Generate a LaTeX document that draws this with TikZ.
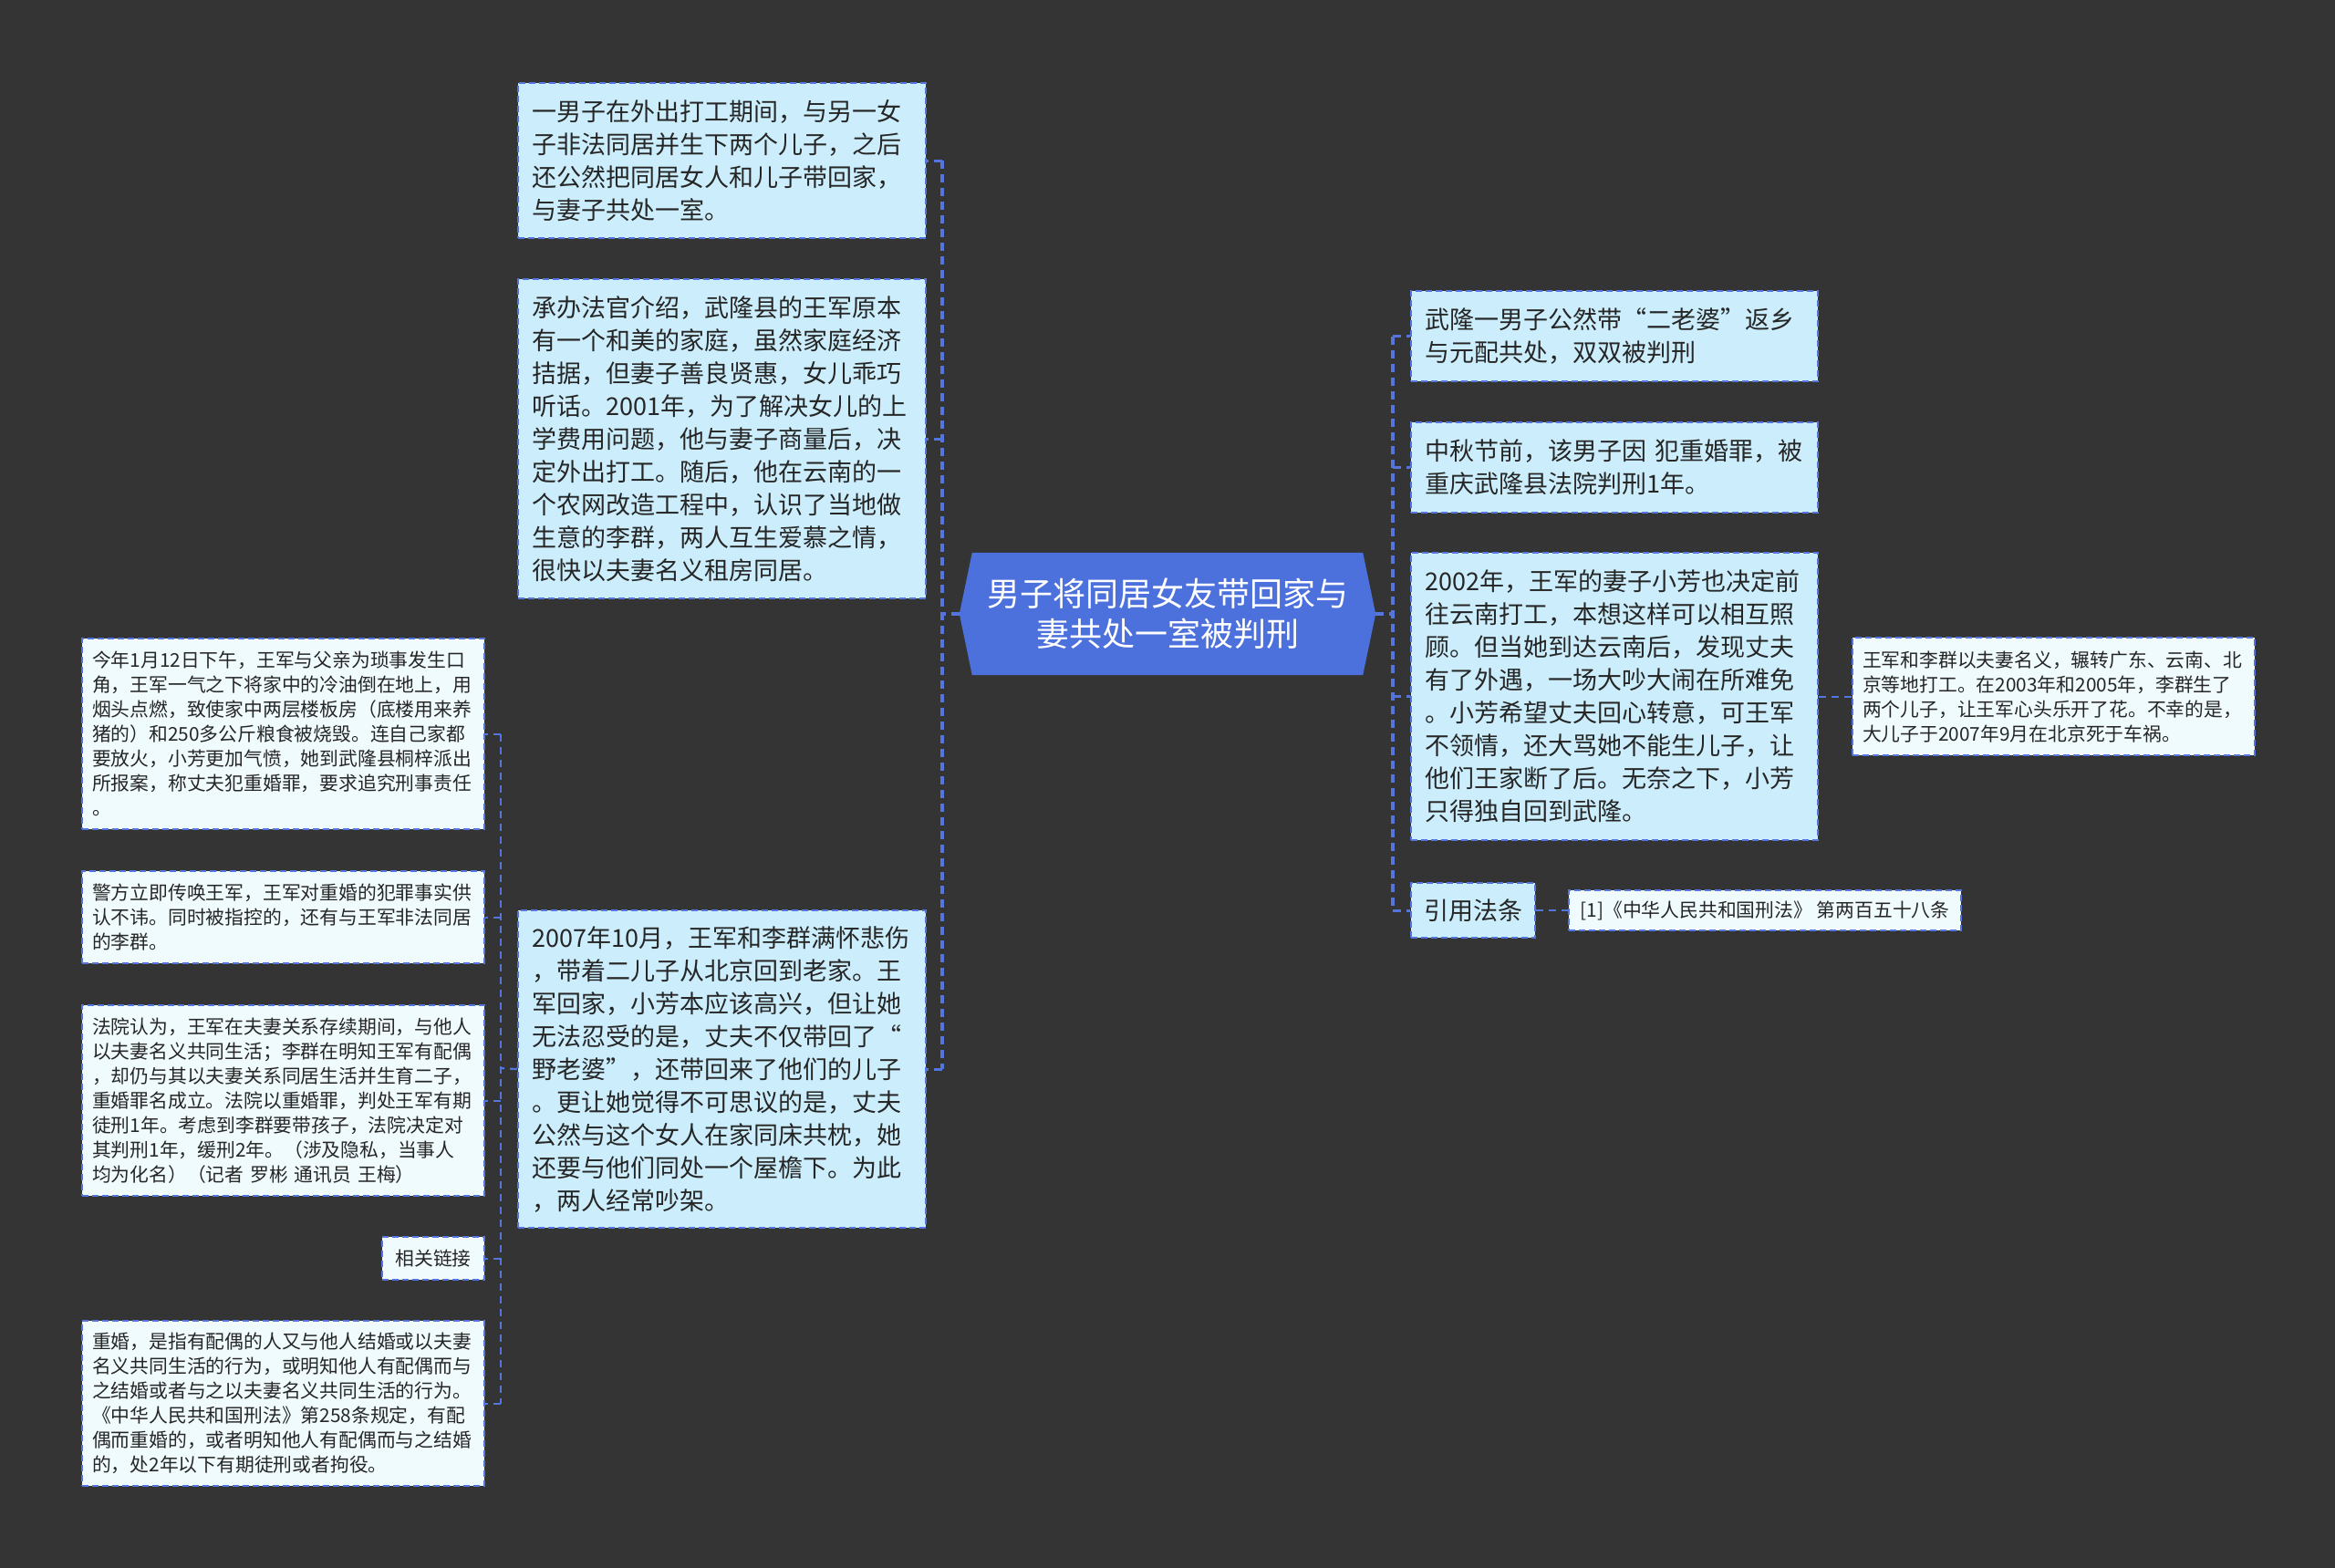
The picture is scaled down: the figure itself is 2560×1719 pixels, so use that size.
\documentclass[tikz,border=0pt]{standalone}
\usepackage{fontspec}
\newfontfamily\cjk{Noto Sans CJK SC}
\usetikzlibrary{backgrounds}
\definecolor{bgc}{RGB}{52,52,52}
\definecolor{hexblue}{RGB}{76,112,220}
\definecolor{lineblue}{RGB}{84,116,222}
\definecolor{fillA}{RGB}{204,238,252}
\definecolor{fillB}{RGB}{240,251,254}
\definecolor{txt}{RGB}{38,38,38}
\tikzset{
  boxbase/.style={draw=lineblue, line width=2.2pt, dash pattern=on 7pt off 4pt, anchor=north west, inner ysep=0pt, text=txt},
  lvA/.style={boxbase, fill=fillA, inner xsep=15pt, align=left, font=\cjk\fontsize{27pt}{36pt}\selectfont},
  lvB/.style={boxbase, fill=fillB, inner xsep=11pt, align=left, font=\cjk\fontsize{20.8pt}{27pt}\selectfont},
  lvAone/.style={boxbase, fill=fillA, inner xsep=0pt, align=center, font=\cjk\fontsize{27pt}{36pt}\selectfont},
  lvBone/.style={boxbase, fill=fillB, inner xsep=0pt, align=center, font=\cjk\fontsize{20.8pt}{27pt}\selectfont},
  connA/.style={draw=lineblue, line width=3.2pt, dash pattern=on 9pt off 6pt},
  connB/.style={draw=lineblue, line width=2.2pt, dash pattern=on 8pt off 6pt},
  centre/.style={inner sep=0pt, align=center, text=white, font=\cjk\fontsize{36pt}{44pt}\selectfont}
}
\begin{document}
\begin{tikzpicture}[x=1pt, y=-1pt]
\useasboundingbox (0,0) rectangle (2560,1719);

% centre
\node[centre, minimum width=456pt, minimum height=134pt] (c) at (1280,673) {男子将同居女友带回家与\\妻共处一室被判刑};

% left level 1
\node[lvA, text width=417pt, minimum height=170pt] (b1) at (567,90) {一男子在外出打工期间，与另一女\\子非法同居并生下两个儿子，之后\\还公然把同居女人和儿子带回家，\\与妻子共处一室。};
\node[lvA, text width=417pt, minimum height=350pt] (b2) at (567,305) {承办法官介绍，武隆县的王军原本\\有一个和美的家庭，虽然家庭经济\\拮据，但妻子善良贤惠，女儿乖巧\\听话。2001年，为了解决女儿的上\\学费用问题，他与妻子商量后，决\\定外出打工。随后，他在云南的一\\个农网改造工程中，认识了当地做\\生意的李群，两人互生爱慕之情，\\很快以夫妻名义租房同居。};
\node[lvA, text width=417pt, minimum height=348pt] (b3) at (567,997) {2007年10月，王军和李群满怀悲伤\\，带着二儿子从北京回到老家。王\\军回家，小芳本应该高兴，但让她\\无法忍受的是，丈夫不仅带回了“\\野老婆”，还带回来了他们的儿子\\。更让她觉得不可思议的是，丈夫\\公然与这个女人在家同床共枕，她\\还要与他们同处一个屋檐下。为此\\，两人经常吵架。};

% left level 2
\node[lvB, text width=419pt, minimum height=209pt] (a1) at (89,699) {今年1月12日下午，王军与父亲为琐事发生口\\角，王军一气之下将家中的冷油倒在地上，用\\烟头点燃，致使家中两层楼板房（底楼用来养\\猪的）和250多公斤粮食被烧毁。连自己家都\\要放火，小芳更加气愤，她到武隆县桐梓派出\\所报案，称丈夫犯重婚罪，要求追究刑事责任\\。};
\node[lvB, text width=419pt, minimum height=101pt] (a2) at (89,954) {警方立即传唤王军，王军对重婚的犯罪事实供\\认不讳。同时被指控的，还有与王军非法同居\\的李群。};
\node[lvB, text width=419pt, minimum height=209pt] (a3) at (89,1101) {法院认为，王军在夫妻关系存续期间，与他人\\以夫妻名义共同生活；李群在明知王军有配偶\\，却仍与其以夫妻关系同居生活并生育二子，\\重婚罪名成立。法院以重婚罪，判处王军有期\\徒刑1年。考虑到李群要带孩子，法院决定对\\其判刑1年，缓刑2年。（涉及隐私，当事人\\均为化名）（记者 罗彬 通讯员 王梅）};
\node[lvBone, minimum width=112pt, minimum height=47pt] (a4) at (418,1355) {相关链接};
\node[lvB, text width=419pt, minimum height=181pt] (a5) at (89,1447) {重婚，是指有配偶的人又与他人结婚或以夫妻\\名义共同生活的行为，或明知他人有配偶而与\\之结婚或者与之以夫妻名义共同生活的行为。\\《中华人民共和国刑法》第258条规定，有配\\偶而重婚的，或者明知他人有配偶而与之结婚\\的，处2年以下有期徒刑或者拘役。};

% right level 1
\node[lvA, text width=416pt, minimum height=99pt] (r1) at (1546,318) {武隆一男子公然带“二老婆”返乡\\与元配共处，双双被判刑};
\node[lvA, text width=416pt, minimum height=99pt] (r2) at (1546,462) {中秋节前，该男子因 犯重婚罪，被\\重庆武隆县法院判刑1年。};
\node[lvA, text width=416pt, minimum height=315pt] (r3) at (1546,605) {2002年，王军的妻子小芳也决定前\\往云南打工，本想这样可以相互照\\顾。但当她到达云南后，发现丈夫\\有了外遇，一场大吵大闹在所难免\\。小芳希望丈夫回心转意，可王军\\不领情，还大骂她不能生儿子，让\\他们王家断了后。无奈之下，小芳\\只得独自回到武隆。};
\node[lvAone, minimum width=136pt, minimum height=60pt] (r4) at (1546,967) {引用法条};

% right level 2
\node[lvB, text width=419pt, minimum height=129pt] (r5) at (2030,698) {王军和李群以夫妻名义，辗转广东、云南、北\\京等地打工。在2003年和2005年，李群生了\\两个儿子，让王军心头乐开了花。不幸的是，\\大儿子于2007年9月在北京死于车祸。};
\node[lvBone, minimum width=430pt, minimum height=44pt] (r6) at (1719,975) {[1]《中华人民共和国刑法》 第两百五十八条};

% connectors left
\coordinate (LT) at (1033,673);
\draw[connA] (c.west) -- (LT);
\draw[connA] (LT |- b1.east) -- (LT |- b3.east);
\draw[connA] (LT |- b1.east) -- (b1.east);
\draw[connA] (LT |- b2.east) -- (b2.east);
\draw[connA] (LT |- b3.east) -- (b3.east);

\coordinate (ST) at (549,1171);
\draw[connB] (b3.west) -- (ST);
\draw[connB] (ST |- a1.east) -- (ST |- a5.east);
\draw[connB] (ST |- a1.east) -- (a1.east);
\draw[connB] (ST |- a2.east) -- (a2.east);
\draw[connB] (ST |- a3.east) -- (a3.east);
\draw[connB] (ST |- a4.east) -- (a4.east);
\draw[connB] (ST |- a5.east) -- (a5.east);

% connectors right
\coordinate (RT) at (1527,673);
\draw[connA] (c.east) -- (RT);
\draw[connA] (RT |- r1.west) -- (RT |- r4.west);
\draw[connA] (RT |- r1.west) -- (r1.west);
\draw[connA] (RT |- r2.west) -- (r2.west);
\draw[connA] (RT |- r3.west) -- (r3.west);
\draw[connA] (RT |- r4.west) -- (r4.west);
\draw[connB] (r3.east) -- (r5.west);
\draw[connB] (r4.east) -- (r6.west);

\begin{scope}[on background layer]
\fill[bgc] (0,0) rectangle (2560,1719);
\fill[hexblue] (c.west) -- ([xshift=14pt]c.north west) -- ([xshift=-14pt]c.north east) -- (c.east) -- ([xshift=-14pt]c.south east) -- ([xshift=14pt]c.south west) -- cycle;
\end{scope}
\end{tikzpicture}
\end{document}
